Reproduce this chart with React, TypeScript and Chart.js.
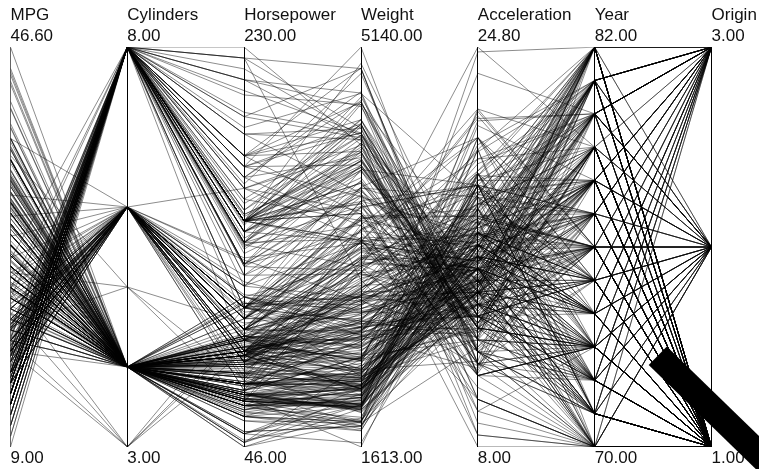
import React, { useEffect, useRef } from "react";
import { Chart, registerables } from "chart.js";

Chart.register(...registerables);

const axisNames = ["MPG", "Cylinders", "Horsepower", "Weight", "Acceleration", "Year", "Origin"];
const axisMin = [9, 3, 46, 1613, 8, 70, 1];
const axisMax = [46.6, 8, 230, 5140, 24.8, 82, 3];

const mpg = [
  18,15,18,16,17,15,14,14,14,15,15,14,15,14,24,22,18,21,27,26,25,24,25,26,21,10,10,11,9,
  27,28,25,25,19,16,17,19,18,14,14,14,14,12,13,13,18,22,19,18,23,28,30,30,31,35,27,26,
  24,25,23,20,21,13,14,15,14,17,11,13,12,13,19,15,13,13,14,18,22,21,26,22,28,23,28,27,
  13,14,13,14,15,12,13,13,14,13,12,13,18,16,18,18,23,26,11,12,13,12,18,20,21,22,18,19,21,26,15,16,29,24,20,19,15,24,20,11,
  20,21,19,15,31,26,32,25,16,16,18,16,13,14,14,14,29,26,26,31,32,28,24,26,24,26,31,
  19,18,15,15,16,15,16,14,17,16,15,18,21,20,13,29,23,20,23,24,25,24,18,29,19,23,23,22,25,33,
  28,25,25,26,27,17.5,16,15.5,14.5,22,22,24,22.5,29,24.5,29,33,20,18,18.5,17.5,29.5,32,28,26.5,20,13,19,19,16.5,16.5,13,13,13,
  31.5,30,36,25.5,33.5,17.5,17,15.5,15,17.5,20.5,19,18.5,16,15.5,15.5,16,29,24.5,26,25.5,30.5,33.5,30,30.5,22,21.5,21.5,
  43.1,36.1,32.8,39.4,36.1,19.9,19.4,20.2,19.2,20.5,20.2,25.1,20.5,19.4,20.6,20.8,18.6,18.1,19.2,17.7,18.1,17.5,30,27.5,27.2,30.9,21.1,23.2,23.8,23.9,20.3,17,21.6,16.2,31.5,29.5,
  21.5,19.8,22.3,20.2,20.6,17,17.6,16.5,18.2,16.9,15.5,19.2,18.5,31.9,34.1,35.7,27.4,25.4,23,27.2,23.9,34.2,34.5,31.8,37.3,28.4,28.8,26.8,33.5,
  41.5,38.1,32.1,37.2,28,26.4,24.3,19.1,34.3,29.8,31.3,37,32.2,46.6,27.9,40.8,44.3,43.4,36.4,30,44.6,40.9,33.8,29.8,32.7,23.7,35,23.6,32.4,
  27.2,26.6,25.8,23.5,30,39.1,39,35.1,32.3,37,37.7,34.1,34.7,34.4,29.9,33,34.5,33.7,32.4,32.9,31.6,28.1,30.7,25.4,24.2,22.4,26.6,20.2,17.6,
  28,27,34,31,29,27,24,23,36,37,31,38,36,36,36,34,38,32,38,25,38,26,22,32,36,27,27,44,32,28,31,
];
const cylinders = [
  8,8,8,8,8,8,8,8,8,8,8,8,8,8,4,6,6,6,4,4,4,4,4,4,6,8,8,8,8,
  4,4,4,4,6,6,6,6,6,8,8,8,8,8,8,8,6,4,6,6,4,4,4,4,4,4,4,4,
  4,4,4,4,4,8,8,8,8,8,8,8,8,8,3,8,8,8,8,4,4,4,4,4,4,4,4,4,
  8,8,8,8,8,8,8,8,8,8,8,8,6,6,6,6,6,4,8,8,8,8,6,4,4,4,3,4,6,4,8,8,4,4,4,4,8,4,6,8,
  6,6,6,6,4,4,4,4,6,6,6,8,8,8,8,8,4,4,4,4,4,4,4,4,4,4,4,
  6,6,6,6,8,8,8,8,6,6,6,6,6,8,8,4,4,6,4,4,4,4,6,4,6,4,4,4,4,4,
  4,4,4,4,4,8,8,8,8,6,6,6,6,4,4,4,4,6,6,6,6,4,4,4,4,4,8,4,6,6,8,8,8,8,
  4,4,4,4,4,8,8,8,8,6,6,6,6,8,8,8,8,4,4,4,4,4,4,4,4,6,4,3,
  4,4,4,4,4,8,8,8,6,6,6,4,6,6,6,6,6,6,8,6,8,8,4,4,4,4,4,4,4,4,5,6,4,6,4,4,
  6,6,4,6,6,8,8,8,8,8,8,8,8,4,4,4,4,5,8,4,8,4,4,4,4,4,6,6,4,
  4,4,4,4,4,4,4,6,4,4,4,4,4,4,4,4,4,4,5,4,4,4,4,4,6,3,4,4,4,
  4,4,4,6,4,4,4,4,4,4,4,4,4,4,4,4,4,4,4,4,4,4,6,6,6,6,8,6,6,
  4,4,4,4,4,4,4,4,4,4,4,4,4,4,4,4,4,4,4,6,6,4,6,4,4,4,4,4,4,4,4,
];
const horsepower = [
  130,165,150,150,140,198,220,215,225,190,170,160,150,225,95,95,97,85,88,46,87,90,95,113,90,215,200,210,193,
  88,90,95,75,100,105,100,88,100,165,175,153,150,180,170,175,110,72,100,88,86,90,70,76,65,69,60,70,
  95,86,80,90,72,165,175,150,153,150,208,155,160,190,97,150,130,140,150,112,76,87,69,86,92,97,80,88,
  175,150,145,137,150,198,150,158,150,215,225,175,105,100,100,88,95,46,150,167,180,180,100,88,72,94,90,85,107,90,145,230,49,75,91,112,150,110,122,180,
  95,85,100,100,67,80,65,75,100,110,105,140,150,150,140,150,83,67,78,52,61,75,75,75,97,93,67,
  95,105,72,72,170,145,150,148,110,105,110,95,110,110,129,75,83,100,78,96,71,97,97,70,90,95,88,98,115,53,
  86,81,92,79,83,140,150,120,152,100,105,81,90,52,60,70,53,100,78,110,95,71,70,75,72,102,150,88,108,120,180,145,130,150,
  68,80,58,96,70,145,110,145,130,110,105,100,98,180,170,190,149,78,88,75,89,63,83,67,78,97,110,110,
  48,66,52,70,60,110,140,139,105,95,85,88,100,90,105,85,110,120,145,165,139,140,68,95,97,75,95,105,85,97,103,125,115,133,71,68,
  115,85,88,90,110,130,129,138,135,155,142,125,150,71,65,80,80,77,125,71,90,70,70,65,69,90,115,115,90,
  76,60,70,65,90,88,90,90,78,90,75,92,75,65,105,65,48,48,67,67,67,60,67,62,132,100,88,90,72,
  84,84,92,110,84,58,64,60,67,65,62,68,63,65,65,74,80,75,75,100,74,80,76,116,120,110,105,88,85,
  88,88,88,85,84,90,92,90,74,68,68,63,70,88,75,70,67,67,67,110,85,92,112,96,84,90,86,52,84,79,82,
];
const weight = [
  3504,3693,3436,3433,3449,4341,4354,4312,4425,3850,3563,3609,3761,3086,2372,2833,2774,2587,2130,1835,2672,2430,2375,2234,2648,4615,4376,4382,4732,
  2130,2264,2228,2046,2634,3439,3329,3302,3288,4209,4464,4154,4096,4955,4746,5140,2962,2408,3282,3139,2220,2123,2074,2065,1773,1613,1834,1955,
  2278,2126,2254,2408,2401,4274,4385,4135,4129,3672,4633,4502,4456,4422,2330,3892,4098,4294,4077,2933,2511,2979,2189,2395,2288,2506,2164,2100,
  4100,3672,3988,4042,3777,4952,4464,4363,4237,4735,4951,3821,3121,3278,2945,3021,2904,1950,4997,4906,4654,4499,2789,2279,2401,2379,2124,2310,2472,2265,4082,4278,1867,2158,2582,2868,3399,2660,2807,3664,
  3102,2875,2901,3336,1950,2451,1836,2542,3781,3632,3613,4141,4699,4457,4638,4257,2219,1963,2300,1649,2003,2125,2108,2246,2489,2391,2000,
  3264,3459,3432,3158,4668,4440,4498,4657,3907,3897,3730,3785,3039,3221,3169,2171,2639,2914,2592,2702,2223,2545,2984,1937,3211,2694,2957,2945,2671,1795,
  2464,2220,2572,2255,2202,4215,4190,3962,4215,3233,3353,3012,3085,2035,2164,1937,1795,3651,3574,3645,3193,1825,1990,2155,2565,3150,3940,3270,2930,3820,4380,4055,3870,3755,
  2045,2155,1825,2300,1945,3880,4060,4140,4295,3520,3425,3630,3525,4220,4165,4325,4335,1940,2740,2265,2755,2051,2075,1985,2190,2815,2600,2720,
  1985,1800,1985,2070,1800,3365,3735,3570,3535,3155,2965,2720,3430,3210,3380,3070,3620,3410,3425,3445,3205,4080,2155,2560,2300,2230,2515,2745,2855,2405,2830,3140,2795,3410,1990,2135,
  3245,2990,2890,3265,3360,3840,3725,3955,3830,4360,4054,3605,3940,1925,1975,1915,2670,3530,3900,3190,3420,2200,2150,2020,2130,2670,2595,2700,2556,
  2144,1968,2120,2019,2678,2870,3003,3381,2188,2711,2542,2434,2265,2110,2800,2110,2085,2335,2950,3250,1850,1835,2145,1845,2910,2420,2500,2905,2290,
  2490,2635,2620,2725,2385,1755,1875,1760,2065,1975,2050,1985,2215,2045,2380,2190,2320,2210,2350,2615,2635,3230,3160,2900,2930,3415,3725,3060,3465,
  2605,2640,2395,2575,2525,2735,2865,3035,1980,2025,1970,2125,2125,2160,2205,2245,1965,1965,1995,2945,3015,2585,2835,2665,2370,2950,2790,2130,2295,2625,2720,
];
const acceleration = [
  12,11.5,11,12,10.5,10,9,8.5,10,8.5,10,8,9.5,10,15,15.5,15.5,16,14.5,20.5,17.5,14.5,17.5,12.5,15,14,15,13.5,18.5,
  14.5,15.5,14,19,13,15.5,15.5,15.5,15.5,12,11.5,13.5,13,11.5,12,12,13.5,19,15,14.5,14,14,19.5,14.5,19,18,19,20.5,
  15.5,17,16.5,15.5,19,12,12,13.5,13,11.5,11,13.5,13.5,12.5,13.5,12.5,14,16,14,14.5,18,19.5,18,16,17,14.5,15,16.5,
  13,11.5,13,14.5,12.5,11.5,12,13,14.5,11,11,11,16.5,18,16,16.5,16,21,14,12.5,13,12.5,15,19,19.5,16.5,13.5,18.5,14,15.5,13,9.5,19.5,15.5,14,15.5,11,14,13.5,11,
  16.5,17,16,17,19,16.5,21,17,17,18,16.5,14,14.5,13.5,16,15.5,16.5,15.5,14.5,16.5,19,14.5,15.5,14,15,15.5,16,
  16,16,21,19.5,11.5,14,14.5,13.5,21,18.5,19,19,15,13.5,12,16,17,16,18.5,13.5,16.5,17,14.5,14,17,15,17,14.5,13.5,17.5,
  15.5,16.9,14.9,17.7,15.3,13,13,13.9,12.8,15.4,14.5,17.6,17.6,22.2,22.1,14.2,17.4,17.7,21,16.2,17.8,12.2,17,16.4,13.6,15.7,13.2,21.9,15.5,16.7,12.1,12,15,14,
  18.5,14.8,18.6,15.5,16.8,12.5,19,13.7,14.9,16.4,16.9,17.7,19,11.1,11.4,12.2,14.5,14.5,16,18.2,15.8,17,15.9,16.4,14.1,14.5,12.8,13.5,
  21.5,14.4,19.4,18.6,16.4,15.5,13.2,12.8,19.2,18.2,15.8,15.4,17.2,17.2,15.8,16.7,18.7,15.1,13.2,13.4,11.2,13.7,16.5,14.2,14.7,14.5,14.8,16.7,17.6,14.9,15.9,13.6,15.7,15.8,14.9,16.6,
  15.4,18.2,17.3,18.2,16.6,15.4,13.4,13.2,15.2,14.9,14.3,15,13,14,15.2,14.4,15,20.1,17.4,24.8,22.2,13.2,14.9,19.2,14.7,16,11.3,12.9,13.2,
  14.7,18.8,15.5,16.4,16.5,18.1,20.1,18.7,15.8,15.5,17.5,15,15.2,17.9,14.4,19.2,21.7,23.7,19.9,21.8,13.8,17.3,18,15.3,11.4,12.5,15.1,14.3,17,
  15.7,16.4,14.4,12.6,12.9,16.9,16.4,16.1,17.8,19.4,17.3,16,14.9,16.2,20.7,14.2,15.8,14.4,16.8,14.8,18.3,20.4,19.6,12.6,13.8,15.8,19,17.1,16.6,
  19.6,18.6,18,16.2,16,18,16.4,20.5,15.3,18.2,17.6,14.7,17.3,14.5,14.5,16.9,15,15.7,16.2,16.4,17,14.5,14.7,13.9,13,17.3,15.6,24.6,11.6,18.6,19.4,
];
const year = [
  70,70,70,70,70,70,70,70,70,70,70,70,70,70,70,70,70,70,70,70,70,70,70,70,70,70,70,70,70,
  71,71,71,71,71,71,71,71,71,71,71,71,71,71,71,71,71,71,71,71,71,71,71,71,71,71,71,71,
  72,72,72,72,72,72,72,72,72,72,72,72,72,72,72,72,72,72,72,72,72,72,72,72,72,72,72,72,
  73,73,73,73,73,73,73,73,73,73,73,73,73,73,73,73,73,73,73,73,73,73,73,73,73,73,73,73,73,73,73,73,73,73,73,73,73,73,73,73,
  74,74,74,74,74,74,74,74,74,74,74,74,74,74,74,74,74,74,74,74,74,74,74,74,74,74,74,
  75,75,75,75,75,75,75,75,75,75,75,75,75,75,75,75,75,75,75,75,75,75,75,75,75,75,75,75,75,75,
  76,76,76,76,76,76,76,76,76,76,76,76,76,76,76,76,76,76,76,76,76,76,76,76,76,76,76,76,76,76,76,76,76,76,
  77,77,77,77,77,77,77,77,77,77,77,77,77,77,77,77,77,77,77,77,77,77,77,77,77,77,77,77,
  78,78,78,78,78,78,78,78,78,78,78,78,78,78,78,78,78,78,78,78,78,78,78,78,78,78,78,78,78,78,78,78,78,78,78,78,
  79,79,79,79,79,79,79,79,79,79,79,79,79,79,79,79,79,79,79,79,79,79,79,79,79,79,79,79,79,
  80,80,80,80,80,80,80,80,80,80,80,80,80,80,80,80,80,80,80,80,80,80,80,80,80,80,80,80,80,
  81,81,81,81,81,81,81,81,81,81,81,81,81,81,81,81,81,81,81,81,81,81,81,81,81,81,81,81,81,
  82,82,82,82,82,82,82,82,82,82,82,82,82,82,82,82,82,82,82,82,82,82,82,82,82,82,82,82,82,82,82,
];
const origin = [
  1,1,1,1,1,1,1,1,1,1,1,1,1,1,3,1,1,1,3,2,2,2,2,2,1,1,1,1,1,
  3,1,3,1,1,1,1,1,1,1,1,1,1,1,1,1,1,1,1,1,1,2,2,2,3,3,2,1,
  3,2,1,1,1,1,1,1,1,1,1,1,1,1,3,1,1,1,1,2,2,2,2,2,3,3,1,3,
  1,1,1,1,1,1,1,1,1,1,1,1,1,1,1,1,1,2,1,1,1,1,1,3,1,3,3,1,1,2,1,1,2,2,2,2,1,2,3,1,
  1,1,1,1,3,1,3,1,1,1,1,1,1,1,1,1,2,2,2,3,3,1,2,2,3,3,2,
  1,1,1,1,1,1,1,1,1,1,1,1,1,1,1,3,1,1,1,3,2,3,1,2,1,2,2,2,2,3,
  2,2,1,1,2,1,1,1,1,1,1,1,1,1,1,2,3,1,1,1,1,2,3,3,1,2,1,2,3,2,1,1,1,1,
  3,1,2,3,3,1,1,1,1,1,1,1,1,1,1,1,1,2,1,3,1,1,1,3,2,3,2,3,
  2,1,3,3,3,1,1,1,1,1,1,1,1,1,1,1,1,1,1,1,1,1,1,3,3,1,3,1,1,3,2,2,2,2,2,3,
  1,1,1,1,1,1,1,1,1,1,1,1,1,2,3,1,1,2,1,2,1,1,1,3,2,1,1,1,1,
  2,3,1,3,1,1,1,1,2,3,3,3,3,3,1,3,2,2,2,2,3,2,3,2,3,3,2,1,3,
  1,1,1,1,1,3,1,3,3,3,3,3,1,1,1,2,2,3,3,3,3,2,2,3,3,1,1,1,1,
  1,1,1,1,1,1,1,1,2,3,3,1,1,3,3,3,3,3,3,1,1,1,1,3,1,1,1,2,1,1,1,
];

const wandX = [5.54, 6.58];
const wandY = [0.228, -0.067];

const columns = [mpg, cylinders, horsepower, weight, acceleration, year, origin];
const carCount = Math.min(...columns.map((c) => c.length));
const topLabels = axisNames.map((n, i) => [n, axisMax[i].toFixed(2)]);
const bottomLabels = axisMin.map((v) => v.toFixed(2));

export default function App() {
  const ref = useRef<HTMLCanvasElement>(null);
  useEffect(() => {
    const datasets: any[] = [
      {
        data: wandX.map((x, i) => ({ x, y: wandY[i] })),
        borderColor: "#000",
        borderWidth: 26,
        borderCapStyle: "butt",
        pointRadius: 0,
        clip: false,
        order: -1,
      },
    ];
    for (let c = 0; c < carCount; c++) {
      datasets.push({
        data: columns.map((col, i) => ({
          x: i,
          y: (col[c] - axisMin[i]) / (axisMax[i] - axisMin[i]),
        })),
        borderColor: "rgba(0,0,0,0.45)",
        borderWidth: 1,
        pointRadius: 0,
        tension: 0,
      });
    }
    const family = "'Liberation Sans', Arial, sans-serif";
    const setRightPad = (scale: any) => {
      scale.paddingRight = 47.5;
    };
    const chart = new Chart(ref.current!, {
      type: "line",
      data: { datasets },
      options: {
        animation: false,
        responsive: false,
        events: [],
        layout: { padding: { left: 10.5, right: 0, top: 5, bottom: 0 } },
        plugins: { legend: { display: false }, tooltip: { enabled: false } },
        scales: {
          x: {
            type: "linear",
            position: "bottom",
            min: 0,
            max: 6,
            afterFit: setRightPad,
            border: { display: false },
            grid: {
              color: (ctx: any) => (ctx.index === 0 ? "#666" : "#000"),
              lineWidth: 1,
              drawTicks: false,
            },
            ticks: {
              stepSize: 1,
              autoSkip: false,
              maxRotation: 0,
              minRotation: 0,
              align: "start",
              padding: 0,
              color: "#111",
              font: { family, size: 17, lineHeight: 1.3 },
              callback: (v: any) => bottomLabels[v],
            },
          },
          xTop: {
            type: "linear",
            axis: "x",
            position: "top",
            min: 0,
            max: 6,
            afterFit: setRightPad,
            border: { display: false },
            grid: { display: false, drawTicks: false },
            ticks: {
              stepSize: 1,
              autoSkip: false,
              maxRotation: 0,
              minRotation: 0,
              align: "start",
              padding: 0,
              color: "#111",
              font: { family, size: 17, lineHeight: 1.24 },
              callback: (v: any) => topLabels[v],
            },
          },
          y: { type: "linear", min: 0, max: 1, display: false },
        },
      } as any,
    });
    return () => chart.destroy();
  }, []);
  return (
    <div style={{ position: "absolute", left: 0, top: 0, width: 759, height: 469, background: "#fff" }}>
      <canvas ref={ref} width={759} height={469} style={{ display: "block" }} />
    </div>
  );
}
